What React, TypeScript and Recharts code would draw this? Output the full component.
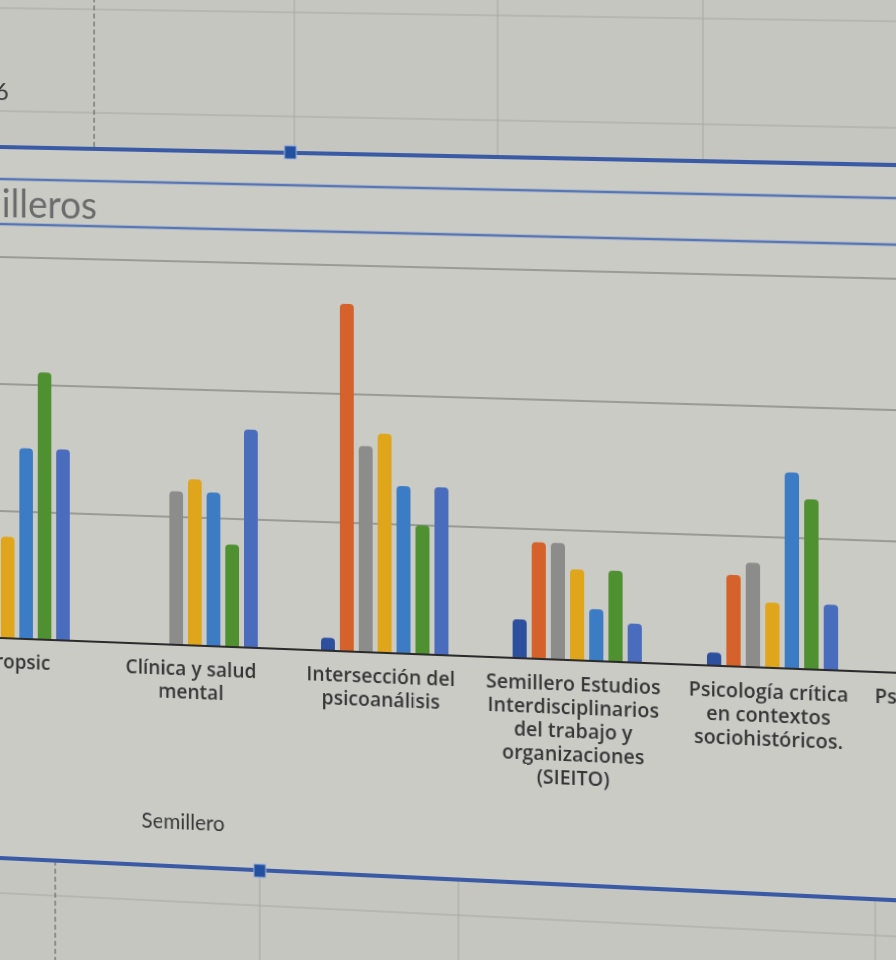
import { BarChart, Bar, XAxis, YAxis, CartesianGrid } from 'recharts';

// photo of an Excel chart: categories wrap the way Excel wrapped them
const semilleroLines: string[][] = [
  ['Neuropsic'],
  ['Clínica y salud', 'mental'],
  ['Intersección del', 'psicoanálisis'],
  ['Semillero Estudios', 'Interdisciplinarios', 'del trabajo y', 'organizaciones', '(SIEITO)'],
  ['Psicología crítica', 'en contextos', 'sociohistóricos.'],
  ['Psicología aplicada', 'a contextos', 'educativos'],
];
const semilleros = semilleroLines.map((l) => l.join(' '));

const serie1 = [2, 0, 1, 3, 1, 2];
const serie2 = [10, 0, 27, 9, 7, 6];
const serie3 = [12, 12, 16, 9, 8, 5];
const serie4 = [8, 13, 17, 7, 5, 4];
const serie5 = [15, 12, 13, 4, 15, 8];
const serie6 = [21, 8, 10, 7, 13, 9];
const serie7 = [15, 17, 13, 3, 5, 6];

const yTicks = [0, 10, 20, 30];

const SERIES = [
  { key: 's1', values: serie1, color: '#2c4f9e' },
  { key: 's2', values: serie2, color: '#d4622a' },
  { key: 's3', values: serie3, color: '#8c8c8a' },
  { key: 's4', values: serie4, color: '#dfa61c' },
  { key: 's5', values: serie5, color: '#3c7cc4' },
  { key: 's6', values: serie6, color: '#4f9030' },
  { key: 's7', values: serie7, color: '#4a6cbc' },
];

const FONT = "Lato, 'Open Sans', sans-serif";
const TICK_FONT = "'Open Sans', 'Noto Sans', sans-serif";

function SemilleroTick(props: any) {
  const { x, y, payload, index } = props;
  const lines = semilleroLines[index] ?? [String(payload.value)];
  return (
    <text
      x={x - 4}
      y={y}
      textAnchor="middle"
      fill="#363636"
      fontSize={19.5}
      fontWeight={600}
      fontFamily={TICK_FONT}
    >
      {lines.map((line, i) => (
        <tspan key={i} x={x - 4} dy={i === 0 ? 20 : 23}>
          {line}
        </tspan>
      ))}
    </text>
  );
}

export default function App() {
  const data = semilleros.map((name, i) => {
    const row: Record<string, string | number> = { name };
    SERIES.forEach((s) => (row[s.key] = s.values[i]));
    return row;
  });

  return (
    <div
      style={{
        position: 'fixed',
        left: 0,
        top: 0,
        width: 896,
        height: 960,
        overflow: 'hidden',
        background: '#c6c6c1',
        fontFamily: FONT,
      }}
    >
      {/* whole scene tilted like the photo of the monitor */}
      <div
        style={{
          position: 'absolute',
          left: 0,
          top: 0,
          width: 896,
          height: 960,
          transformOrigin: '0 0',
          transform: 'matrix3d(0.967,0.0141,0,-0.0000367, 0,1,0,0, 0,0,1,0, 0,0,0,1)',
        }}
      >
        <svg width={896} height={960} style={{ position: 'absolute', left: 0, top: 0, overflow: 'visible' }}>
          {/* spreadsheet cells */}
          <line x1={-40} y1={8} x2={980} y2={8} stroke="#a8a8a2" strokeWidth={1} />
          <line x1={-40} y1={111} x2={980} y2={111} stroke="#a8a8a2" strokeWidth={1} />
          <line x1={97} y1={-20} x2={97} y2={147} stroke="#555" strokeWidth={1} strokeDasharray="5 3" />
          {[301, 505, 708].map((x) => (
            <line key={x} x1={x} y1={-20} x2={x} y2={147} stroke="#a8a8a2" strokeWidth={1} />
          ))}
          <line x1={-40} y1={893} x2={980} y2={893} stroke="#a8a8a2" strokeWidth={1} />
          <line x1={57} y1={858} x2={57} y2={990} stroke="#555" strokeWidth={1} strokeDasharray="5 3" />
          {[266, 466, 876].map((x) => (
            <line key={x} x1={x} y1={858} x2={x} y2={990} stroke="#a8a8a2" strokeWidth={1} />
          ))}
          <text x={-5} y={100} fontSize={24} fill="#3a3a3a" fontFamily={FONT}>
            6
          </text>

          {/* chart area */}
          <rect x={-40} y={147} width={1020} height={711} fill="#cbcbc6" />
          <line x1={-40} y1={147} x2={980} y2={147} stroke="#3a5aa6" strokeWidth={4} />
          <rect x={291} y={140} width={12} height={13} fill="#2450a0" stroke="#9fb4dc" strokeWidth={1} />
          <line x1={-40} y1={858} x2={980} y2={858} stroke="#3a5aa6" strokeWidth={4} />
          <rect x={260} y={852} width={12} height={13} fill="#2450a0" stroke="#9fb4dc" strokeWidth={1} />

          {/* title box */}
          <line x1={-40} y1={179} x2={980} y2={179} stroke="#5575b6" strokeWidth={2.5} />
          <line x1={-40} y1={224} x2={980} y2={224} stroke="#5575b6" strokeWidth={2.5} />
          <text x={-70} y={217} fontSize={38} fill="#6b6b6b" fontFamily={FONT}>
            Semilleros
          </text>

          <text x={188} y={821} textAnchor="middle" fontSize={21} fill="#363636" fontFamily={FONT}>
            Semillero
          </text>
        </svg>

        <div style={{ position: 'absolute', left: -88, top: 252 }}>
          <BarChart
            width={1152}
            height={576}
            data={data}
            margin={{ top: 5, right: 0, bottom: 0, left: 0 }}
            barCategoryGap={32}
            barGap={5}
          >
            <CartesianGrid vertical={false} stroke="#8a8a86" strokeWidth={1.5} />
            <YAxis hide domain={[0, 30]} ticks={yTicks} />
            <XAxis
              dataKey="name"
              height={190}
              interval={0}
              tickLine={false}
              tickSize={8}
              axisLine={{ stroke: '#2b2b2b', strokeWidth: 2 }}
              tick={<SemilleroTick />}
            />
            {SERIES.map((s) => (
              <Bar
                key={s.key}
                dataKey={s.key}
                fill={s.color}
                barSize={14}
                radius={[4, 4, 0, 0]}
                isAnimationActive={false}
              />
            ))}
          </BarChart>
        </div>
      </div>
    </div>
  );
}
